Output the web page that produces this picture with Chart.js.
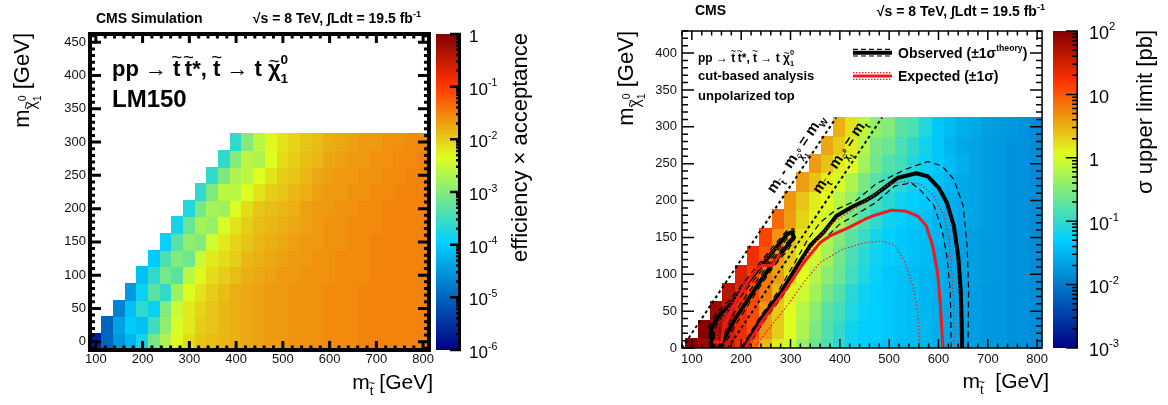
<!DOCTYPE html>
<html>
<head>
<meta charset="utf-8">
<script src="https://cdn.jsdelivr.net/npm/chart.js@4.4.1/dist/chart.umd.min.js"></script>
<style>
  body { margin: 0; background: #fff; width: 1168px; height: 405px; overflow: hidden; position: relative; }
  canvas { position: absolute; top: 0; }
</style>
</head>
<body>
<canvas id="effPlot" width="436" height="405" style="left:0px"></canvas>
<canvas id="effBar" width="124" height="405" style="left:436px"></canvas>
<canvas id="limPlot" width="492" height="405" style="left:560px"></canvas>
<canvas id="limBar" width="116" height="405" style="left:1052px"></canvas>
<script>
const FONT = '"Liberation Sans", Arial, Helvetica, sans-serif';
Chart.defaults.font.family = FONT;
Chart.defaults.color = '#111';

// bin centres (GeV)
const stopMass = [100,125,150,175,200,225,250,275,300,325,350,375,400,425,450,475,500,525,550,575,600,625,650,675,700,725,750,775,800];
const lspMass = [0,25,50,75,100,125,150,175,200,225,250,275,300];

// tick labels
const stopTicks = [100,200,300,400,500,600,700,800];
const effLspTicks = [0,50,100,150,200,250,300,350,400,450];
const limLspTicks = [0,50,100,150,200,250,300,350,400];
const effBarExps = [0,-1,-2,-3,-4,-5,-6];
const limBarExps = [2,1,0,-1,-2,-3];

// log10(efficiency x acceptance), one row per lsp mass, rows end at m_stop = 800
const effLog = [
  [-5.7,-5.0,-4.5,-4.2,-3.8,-3.1,-2.7,-2.3,-2.1,-1.95,-1.9,-1.85,-1.8,-1.75,-1.7,-1.65,-1.65,-1.6,-1.6,-1.6,-1.55,-1.55,-1.55,-1.5,-1.5,-1.5,-1.5,-1.5,-1.5],
  [-5.0,-4.4,-4.0,-4.1,-3.5,-2.9,-2.4,-2.2,-2.0,-1.95,-1.85,-1.8,-1.75,-1.7,-1.65,-1.65,-1.6,-1.6,-1.6,-1.55,-1.55,-1.55,-1.5,-1.5,-1.5,-1.5,-1.5,-1.5],
  [-4.7,-4.1,-3.6,-3.9,-3.0,-2.5,-2.2,-2.05,-1.95,-1.85,-1.8,-1.75,-1.7,-1.65,-1.65,-1.6,-1.6,-1.6,-1.55,-1.55,-1.55,-1.5,-1.5,-1.5,-1.5,-1.5,-1.5],
  [-4.5,-3.9,-3.3,-3.6,-2.8,-2.35,-2.15,-2.0,-1.9,-1.8,-1.75,-1.7,-1.65,-1.65,-1.6,-1.6,-1.6,-1.55,-1.55,-1.55,-1.5,-1.5,-1.5,-1.5,-1.5,-1.5],
  [-4.1,-3.6,-3.1,-3.3,-2.6,-2.3,-2.1,-2.0,-1.9,-1.8,-1.75,-1.7,-1.65,-1.65,-1.6,-1.6,-1.6,-1.55,-1.55,-1.55,-1.5,-1.5,-1.5,-1.5,-1.5],
  [-4.0,-3.4,-3.0,-3.15,-2.5,-2.2,-2.1,-2.0,-1.85,-1.8,-1.75,-1.7,-1.65,-1.65,-1.6,-1.6,-1.55,-1.55,-1.55,-1.5,-1.5,-1.5,-1.5,-1.5],
  [-3.9,-3.3,-2.9,-3.0,-2.45,-2.2,-2.05,-1.95,-1.85,-1.8,-1.75,-1.7,-1.65,-1.65,-1.6,-1.6,-1.55,-1.55,-1.5,-1.5,-1.5,-1.5,-1.5],
  [-3.8,-3.2,-2.75,-2.85,-2.4,-2.15,-2.0,-1.9,-1.85,-1.8,-1.75,-1.7,-1.65,-1.6,-1.6,-1.55,-1.55,-1.55,-1.5,-1.5,-1.5,-1.5],
  [-3.7,-3.1,-2.75,-2.8,-2.35,-2.1,-1.95,-1.9,-1.85,-1.8,-1.7,-1.65,-1.65,-1.6,-1.6,-1.55,-1.55,-1.5,-1.5,-1.5,-1.5],
  [-3.6,-3.05,-2.6,-2.6,-2.35,-2.15,-2.0,-1.95,-1.85,-1.8,-1.7,-1.65,-1.65,-1.6,-1.6,-1.55,-1.55,-1.5,-1.5,-1.5],
  [-3.6,-3.05,-2.7,-2.6,-2.35,-2.15,-2.0,-1.95,-1.85,-1.75,-1.7,-1.65,-1.65,-1.6,-1.6,-1.55,-1.55,-1.5,-1.5],
  [-3.6,-3.0,-2.6,-2.7,-2.35,-2.1,-2.0,-1.9,-1.85,-1.75,-1.7,-1.65,-1.65,-1.6,-1.6,-1.55,-1.55,-1.5],
  [-3.6,-3.0,-2.6,-2.3,-2.15,-2.05,-1.95,-1.9,-1.8,-1.75,-1.7,-1.65,-1.65,-1.6,-1.6,-1.55,-1.55]
];

// log10(sigma upper limit / pb), same layout
const limitLog = [
  [1.98,1.85,1.75,1.55,1.3,0.9,0.45,0.15,-0.05,-0.4,-0.65,-0.85,-1.05,-1.2,-1.3,-1.35,-1.4,-1.45,-1.45,-1.5,-1.55,-1.6,-1.65,-1.7,-1.75,-1.75,-1.8,-1.8,-1.85],
  [1.98,1.8,1.5,1.3,1.05,0.65,0.33,0.05,-0.25,-0.55,-0.8,-1.0,-1.2,-1.3,-1.3,-1.35,-1.4,-1.45,-1.5,-1.55,-1.6,-1.65,-1.7,-1.75,-1.75,-1.8,-1.8,-1.85],
  [1.85,1.6,1.3,1.05,0.6,0.35,0.05,-0.2,-0.45,-0.75,-0.9,-1.1,-1.25,-1.3,-1.35,-1.4,-1.45,-1.5,-1.55,-1.6,-1.65,-1.7,-1.75,-1.75,-1.8,-1.8,-1.85],
  [1.65,1.35,1.1,0.8,0.45,0.15,-0.05,-0.3,-0.6,-0.8,-1.05,-1.2,-1.3,-1.35,-1.4,-1.45,-1.5,-1.55,-1.6,-1.65,-1.7,-1.75,-1.75,-1.8,-1.8,-1.85],
  [1.45,1.15,0.8,0.6,0.3,0.05,-0.2,-0.45,-0.65,-0.9,-1.1,-1.25,-1.35,-1.4,-1.45,-1.5,-1.55,-1.6,-1.65,-1.7,-1.72,-1.75,-1.8,-1.8,-1.85],
  [1.3,1.0,0.6,0.35,0.1,-0.05,-0.3,-0.6,-0.85,-1.05,-1.2,-1.3,-1.35,-1.4,-1.45,-1.55,-1.6,-1.65,-1.7,-1.72,-1.75,-1.8,-1.8,-1.85],
  [1.1,0.65,0.45,0.2,0.05,-0.25,-0.5,-0.75,-0.95,-1.15,-1.3,-1.35,-1.4,-1.45,-1.5,-1.6,-1.65,-1.7,-1.72,-1.75,-1.8,-1.8,-1.85],
  [0.9,0.6,0.3,0.1,-0.05,-0.25,-0.55,-0.8,-1.0,-1.2,-1.3,-1.35,-1.4,-1.5,-1.55,-1.6,-1.65,-1.7,-1.75,-1.8,-1.8,-1.85],
  [0.65,0.38,0.15,0.05,-0.2,-0.4,-0.7,-0.9,-1.05,-1.2,-1.3,-1.35,-1.45,-1.55,-1.6,-1.65,-1.7,-1.75,-1.8,-1.8,-1.85],
  [0.6,0.4,0.15,0.0,-0.25,-0.55,-0.75,-0.9,-1.05,-1.2,-1.3,-1.4,-1.5,-1.6,-1.65,-1.7,-1.75,-1.8,-1.8,-1.85],
  [0.6,0.4,0.15,0.05,-0.3,-0.6,-0.8,-0.9,-1.1,-1.25,-1.35,-1.45,-1.55,-1.65,-1.7,-1.75,-1.8,-1.8,-1.85],
  [0.55,0.35,0.15,-0.2,-0.55,-0.65,-0.85,-1.0,-1.2,-1.35,-1.5,-1.6,-1.65,-1.7,-1.75,-1.8,-1.8,-1.85],
  [0.5,0.2,-0.15,-0.4,-0.5,-0.75,-0.85,-1.1,-1.35,-1.45,-1.55,-1.6,-1.7,-1.72,-1.75,-1.8,-1.85]
];

// exclusion contours [m_stop, m_lsp]
const obsMain = [[205,0],[241,40],[281,76],[314,112],[340,139],[367,157],[393,179],[426,192],[452,200],[472,208],[518,231],[555,237],[578,233],[601,217],[617,197],[631,166],[640,125],[645,80],[647,35],[648,0]];
const obsIsland = [[142,0],[139,26],[155,44],[182,62],[208,85],[235,107],[268,134],[294,155],[304,157],[306,150],[294,139],[261,112],[228,80],[188,40],[155,0]];
const obsUp = [[200,0],[236,40],[276,78],[308,115],[333,145],[360,170],[393,188],[433,200],[472,222],[532,242],[578,253],[607,247],[631,229],[650,193],[658,139],[661,80],[660,0]];
const obsDown = [[212,0],[248,38],[287,73],[320,108],[346,133],[372,150],[400,168],[433,181],[472,197],[512,220],[545,224],[565,213],[591,193],[607,161],[617,125],[624,76],[626,0]];
const obsUpIsland = [[136,0],[134,28],[150,48],[178,66],[205,89],[232,111],[265,138],[292,159],[306,162],[310,150],[297,135],[263,108],[231,76],[193,36],[162,0]];
const obsDownIsland = [[147,0],[145,24],[160,41],[186,58],[212,81],[239,103],[271,130],[294,149],[300,149],[290,141],[258,116],[225,85],[184,46],[151,0]];
const expMain = [[208,0],[241,35],[287,76],[327,116],[360,143],[380,152],[420,164],[452,175],[466,179],[505,187],[532,186],[558,179],[575,166],[588,139],[598,103],[604,58],[609,0]];
const expIsland = [[143,8],[160,8],[165,28],[182,55],[208,85],[228,104],[242,112],[262,112],[280,128]];
const expUp = [[215,0],[250,40],[290,80],[325,118],[355,148],[385,170],[433,190],[499,222],[532,226],[565,222],[591,206],[611,179],[621,148],[627,103],[631,58],[632,0]];
const expDown = [[225,0],[255,25],[294,58],[327,89],[360,116],[406,134],[452,143],[485,145],[512,139],[532,116],[548,85],[558,49],[561,0]];
const expUpIsland = [[150,0],[152,30],[175,55],[205,85],[240,115],[270,135],[288,140]];
// kinematic boundaries
const wLine = [[80,0],[392.5,312.5]];
const tLine = [[173,0],[485.5,312.5]];

// ROOT style rainbow palette
const palStops = [0, 0.34, 0.61, 0.84, 1];
const palR = [0, 0, 0.87, 1, 0.51];
const palG = [0, 0.81, 1, 0.2, 0];
const palB = [0.51, 1, 0.12, 0, 0];
function palColor(i) {
  return `rgb(${Math.round(palR[i]*255)},${Math.round(palG[i]*255)},${Math.round(palB[i]*255)})`;
}
function palette(f) {
  f = Math.max(0, Math.min(1, f));
  let i = 0;
  while (i < palStops.length - 2 && f > palStops[i + 1]) i++;
  const t = (f - palStops[i]) / (palStops[i + 1] - palStops[i]);
  const c = arr => Math.round((arr[i] + (arr[i + 1] - arr[i]) * t) * 255);
  return `rgb(${c(palR)},${c(palG)},${c(palB)})`;
}

// text with sub/superscripts and tildes
function partsWidth(ctx, parts, size, weight) {
  let w = 0;
  for (const p of parts) {
    const it = typeof p === 'string' ? { t: p } : p;
    ctx.font = `${weight} ${size * (it.s || 1)}px ${FONT}`;
    if (it.adv !== false) w += ctx.measureText(it.t).width;
  }
  return w;
}
function drawRich(ctx, parts, x, y, size, weight, align) {
  const w = partsWidth(ctx, parts, size, weight);
  let cx = align === 'right' ? x - w : align === 'center' ? x - w / 2 : x;
  ctx.textAlign = 'left';
  ctx.textBaseline = 'alphabetic';
  ctx.fillStyle = '#000';
  for (const p of parts) {
    const it = typeof p === 'string' ? { t: p } : p;
    const fs = size * (it.s || 1);
    const by = y - (it.dy || 0) * size;
    ctx.font = `${weight} ${fs}px ${FONT}`;
    const tw = ctx.measureText(it.t).width;
    ctx.fillText(it.t, cx, by);
    if (it.tilde) {
      const ts = fs * 0.85;
      ctx.font = `normal ${ts}px ${FONT}`;
      const lw = ctx.measureText('~').width;
      const lift = it.tilde === 'hi' ? 0.6 : 0.4;
      ctx.fillText('~', cx + tw / 2 - lw / 2, by - fs * lift);
    }
    if (it.adv !== false) cx += tw;
  }
}
function drawRotated(ctx, parts, x, top, size, weight) {
  ctx.save();
  ctx.translate(x, top);
  ctx.rotate(-Math.PI / 2);
  drawRich(ctx, parts, 0, 0, size, weight, 'right');
  ctx.restore();
}

const procParts = ['pp → ', { t: 't', tilde: 'hi' }, '\u2009', { t: 't', tilde: 'hi' }, '*, ', { t: 't', tilde: 'hi' }, ' → t ',
  { t: 'χ', tilde: 'lo' }, { t: '0', s: 0.62, dy: 0.55, adv: false }, { t: '1', s: 0.62, dy: -0.3 }];
const energyParts = ['√s = 8 TeV, ∫Ldt = 19.5 fb', { t: '-1', s: 0.65, dy: 0.45 }];
const lspTitle = ['m', { t: 'χ', s: 0.72, dy: -0.32, tilde: 'lo' }, { t: '0', s: 0.48, dy: 0.12, adv: false }, { t: '1', s: 0.48, dy: -0.55 }, ' [GeV]'];
const stopTitle = sp => ['m', { t: 't', s: 0.62, dy: -0.3, tilde: 'hi' }, sp + '[GeV]'];
const diagLabel = sub => ['m', { t: 't', s: 0.62, dy: -0.3, tilde: 'hi' }, ' - m', { t: 'χ', s: 0.62, dy: -0.3, tilde: 'lo' },
  { t: '0', s: 0.4, dy: 0.12, adv: false }, { t: '1', s: 0.4, dy: -0.5 }, ' = m', { t: sub, s: 0.62, dy: -0.3 }];

function drawHeat(chart, rows, logMin, logMax) {
  const { ctx, chartArea: a, scales: { x, y } } = chart;
  const half = (stopMass[1] - stopMass[0]) / 2;
  ctx.save();
  ctx.beginPath();
  ctx.rect(a.left, a.top, a.right - a.left, a.bottom - a.top);
  ctx.clip();
  rows.forEach((row, r) => {
    const m = lspMass[r];
    const start = stopMass.length - row.length;
    row.forEach((v, i) => {
      const s = stopMass[start + i];
      const x0 = Math.floor(x.getPixelForValue(s - half)), x1 = Math.ceil(x.getPixelForValue(s + half));
      const y0 = Math.floor(y.getPixelForValue(m + half)), y1 = Math.ceil(y.getPixelForValue(m - half));
      ctx.fillStyle = palette((v - logMin) / (logMax - logMin));
      ctx.fillRect(x0, y0, x1 - x0, y1 - y0);
    });
  });
  ctx.restore();
}

function drawFrame(chart, f) {
  const { ctx, chartArea: a, scales: { x, y } } = chart;
  ctx.save();
  ctx.strokeStyle = '#000';
  ctx.lineWidth = f.tw;
  ctx.beginPath();
  for (let k = Math.ceil(x.min / f.xMin); k * f.xMin <= x.max; k++) {
    const v = k * f.xMin, p = x.getPixelForValue(v);
    const L = v % f.xMaj === 0 ? f.xLen[0] : f.xLen[1];
    ctx.moveTo(p, a.bottom); ctx.lineTo(p, a.bottom - L);
    ctx.moveTo(p, a.top); ctx.lineTo(p, a.top + L);
  }
  for (let k = Math.ceil(y.min / f.yMin); k * f.yMin <= y.max; k++) {
    const v = k * f.yMin, p = y.getPixelForValue(v);
    const L = v % f.yMaj === 0 ? f.yLen[0] : f.yLen[1];
    ctx.moveTo(a.left, p); ctx.lineTo(a.left + L, p);
    ctx.moveTo(a.right, p); ctx.lineTo(a.right - L, p);
  }
  ctx.stroke();
  ctx.lineWidth = f.lw;
  ctx.strokeRect(a.left, a.top, a.right - a.left, a.bottom - a.top);
  ctx.restore();
}

function line(pts, color, width, dash) {
  return {
    data: pts.map(([x, y]) => ({ x, y })), showLine: true, borderColor: color, borderWidth: width,
    borderDash: dash || [], pointRadius: 0, fill: false, tension: 0, borderJoinStyle: 'round'
  };
}

function makePlot(id, o) {
  const cv = document.getElementById(id);
  const W = cv.width, H = cv.height;
  return new Chart(cv, {
    type: 'scatter',
    data: { datasets: o.datasets },
    options: {
      responsive: false, animation: false, events: [],
      layout: { padding: { left: 0, right: W - o.area.right, top: o.area.top, bottom: 0 } },
      plugins: { legend: { display: false }, tooltip: { enabled: false } },
      scales: {
        x: {
          type: 'linear', min: o.x[0], max: o.x[1],
          grid: { display: false, drawTicks: false }, border: { display: false },
          ticks: { font: { size: 13 }, color: '#111', padding: o.pad[0], maxRotation: 0, autoSkip: false },
          afterBuildTicks: s => { s.ticks = stopTicks.map(v => ({ value: v })); },
          afterFit: s => { s.height = H - o.area.bottom; }
        },
        y: {
          type: 'linear', min: o.y[0], max: o.y[1],
          grid: { display: false, drawTicks: false }, border: { display: false },
          ticks: { font: { size: 13 }, color: '#111', padding: o.pad[1], autoSkip: false },
          afterBuildTicks: s => { s.ticks = o.yTicks.map(v => ({ value: v })); },
          afterFit: s => { s.width = o.area.left; }
        }
      }
    },
    plugins: [{
      id: id + 'Deco',
      beforeDatasetsDraw: c => drawHeat(c, o.rows, o.logRange[0], o.logRange[1]),
      afterDatasetsDraw: c => { drawFrame(c, o.frame); o.decor(c); }
    }]
  });
}

function drawBar(c, o) {
  const { ctx, chartArea: a, scales: { y } } = c;
  ctx.save();
  const g = ctx.createLinearGradient(0, a.bottom, 0, a.top);
  palStops.forEach((s, i) => g.addColorStop(s, palColor(i)));
  ctx.fillStyle = g;
  ctx.fillRect(a.left, a.top, a.right - a.left, a.bottom - a.top);
  ctx.strokeStyle = '#000';
  ctx.lineWidth = o.tw;
  ctx.beginPath();
  for (let e = o.exp[0]; e < o.exp[1]; e++) {
    for (let k = 1; k <= 9; k++) {
      const p = y.getPixelForValue(k * Math.pow(10, e));
      const L = k === 1 ? o.len[0] : o.len[1];
      ctx.moveTo(a.right, p); ctx.lineTo(a.right - L, p);
    }
  }
  const pt = y.getPixelForValue(Math.pow(10, o.exp[1]));
  ctx.moveTo(a.right, pt); ctx.lineTo(a.right - o.len[0], pt);
  ctx.stroke();
  ctx.lineWidth = o.lw;
  ctx.beginPath();
  ctx.moveTo(a.right - o.lw / 2, a.top); ctx.lineTo(a.right - o.lw / 2, a.bottom);
  ctx.stroke();
  o.labels.forEach(e => {
    const p = y.getPixelForValue(Math.pow(10, e));
    const parts = e === 0 ? ['1'] : e === 1 ? ['10'] : ['10', { t: String(e), s: 0.62, dy: 0.5 }];
    drawRich(ctx, parts, o.labelX, p + o.labelSize * 0.36 + 2, o.labelSize, 'normal', 'left');
  });
  drawRotated(ctx, [o.title], o.titleX, o.titleTop, o.titleSize, 'normal');
  ctx.restore();
}

function makeBar(id, o) {
  const cv = document.getElementById(id);
  const W = cv.width, H = cv.height;
  return new Chart(cv, {
    type: 'scatter',
    data: { datasets: [] },
    options: {
      responsive: false, animation: false, events: [],
      layout: { padding: { left: o.area.left, right: 0, top: o.area.top, bottom: H - o.area.bottom } },
      plugins: { legend: { display: false }, tooltip: { enabled: false } },
      scales: {
        x: { display: false, min: 0, max: 1 },
        y: {
          type: 'logarithmic', position: 'right', min: Math.pow(10, o.exp[0]), max: Math.pow(10, o.exp[1]),
          grid: { display: false }, border: { display: false }, ticks: { display: false },
          afterFit: s => { s.width = W - o.area.right; }
        }
      }
    },
    plugins: [{ id: id + 'Deco', afterDraw: c => drawBar(c, o) }]
  });
}

// left: efficiency x acceptance
makePlot('effPlot', {
  x: [87.5, 812.5], y: [-12.5, 462.5], yTicks: effLspTicks,
  area: { left: 90, right: 434, top: 34, bottom: 350 }, pad: [2, 4],
  rows: effLog, logRange: [-6, 0], datasets: [],
  frame: { lw: 4, tw: 3, xMaj: 100, xMin: 20, yMaj: 50, yMin: 10, xLen: [9, 4.5], yLen: [11, 5] },
  decor: c => {
    const ctx = c.ctx;
    ctx.save();
    drawRich(ctx, ['CMS Simulation'], 96, 23, 14, 'bold', 'left');
    drawRich(ctx, energyParts, 421, 23, 14, 'bold', 'right');
    drawRich(ctx, procParts, 112, 76, 22, 'bold', 'left');
    drawRich(ctx, ['LM150'], 112, 107, 24, 'bold', 'left');
    drawRotated(ctx, lspTitle, 29, 33, 22, 'normal');
    drawRich(ctx, stopTitle(' '), 433, 389, 21, 'normal', 'right');
    ctx.restore();
  }
});

makeBar('effBar', {
  exp: [-6, 0], area: { left: 0, right: 25, top: 34, bottom: 350 },
  lw: 3, tw: 2.5, len: [11, 5], labels: effBarExps, labelX: 33, labelSize: 17,
  title: 'efficiency × acceptance', titleX: 91, titleTop: 33, titleSize: 22
});

// right: cross section upper limit
makePlot('limPlot', {
  x: [80, 810], y: [0, 430], yTicks: limLspTicks,
  area: { left: 122, right: 490, top: 31, bottom: 348 }, pad: [4, 5],
  rows: limitLog, logRange: [-3, 2],
  datasets: [
    line(wLine, '#000', 2, [3, 3]),
    line(tLine, '#000', 2, [3, 3]),
    line(expUp, '#e8262a', 1.2, [1.5, 2]),
    line(expDown, '#e8262a', 1.2, [1.5, 2]),
    line(expUpIsland, '#e8262a', 1.2, [1.5, 2]),
    line(expMain, '#f0191e', 3),
    line(expIsland, '#f0191e', 3),
    line(obsUp, '#000', 1.2, [6, 4]),
    line(obsDown, '#000', 1.2, [6, 4]),
    line(obsUpIsland, '#000', 1.2, [6, 4]),
    line(obsDownIsland, '#000', 1.2, [6, 4]),
    line(obsMain, '#000', 4),
    line(obsIsland, '#000', 4)
  ],
  frame: { lw: 1.5, tw: 1.5, xMaj: 100, xMin: 20, yMaj: 50, yMin: 10, xLen: [9, 4.5], yLen: [12, 6] },
  decor: c => {
    const { ctx, scales: { x, y } } = c;
    ctx.save();
    ctx.translate(-560, 0);
    drawRich(ctx, ['CMS'], 695, 15, 14, 'bold', 'left');
    drawRich(ctx, energyParts, 1045, 16, 14, 'bold', 'right');
    drawRich(ctx, procParts, 698, 62, 12, 'bold', 'left');
    drawRich(ctx, ['cut-based analysis'], 698, 79.5, 13, 'bold', 'left');
    drawRich(ctx, ['unpolarized top'], 698, 100, 13, 'bold', 'left');
    // legend
    ctx.strokeStyle = '#000';
    ctx.lineWidth = 1.2; ctx.setLineDash([5, 3]);
    ctx.beginPath();
    ctx.moveTo(853, 49.3); ctx.lineTo(892, 49.3);
    ctx.moveTo(853, 56); ctx.lineTo(892, 56);
    ctx.stroke();
    ctx.setLineDash([]); ctx.lineWidth = 4;
    ctx.beginPath(); ctx.moveTo(853, 52.7); ctx.lineTo(892, 52.7); ctx.stroke();
    ctx.strokeStyle = '#e8262a'; ctx.lineWidth = 1.2; ctx.setLineDash([1.5, 1.5]);
    ctx.beginPath();
    ctx.moveTo(853, 72.7); ctx.lineTo(892, 72.7);
    ctx.moveTo(853, 79.3); ctx.lineTo(892, 79.3);
    ctx.stroke();
    ctx.setLineDash([]); ctx.strokeStyle = '#f0191e'; ctx.lineWidth = 3;
    ctx.beginPath(); ctx.moveTo(853, 76); ctx.lineTo(892, 76); ctx.stroke();
    drawRich(ctx, ['Observed (±1σ', { t: 'theory', s: 0.62, dy: 0.5 }, ')'], 898, 57.5, 14, 'bold', 'left');
    drawRich(ctx, ['Expected (±1σ)'], 898, 80.5, 14, 'bold', 'left');
    // labels along the kinematic lines
    const ang = Math.atan2(y.getPixelForValue(wLine[1][1]) - y.getPixelForValue(wLine[0][1]),
                           x.getPixelForValue(wLine[1][0]) - x.getPixelForValue(wLine[0][0]));
    [[310, 264, 'W'], [399, 260, 't']].forEach(([mx, my, sub]) => {
      ctx.save();
      ctx.translate(x.getPixelForValue(mx) + 560, y.getPixelForValue(my));
      ctx.rotate(ang);
      drawRich(ctx, diagLabel(sub), 0, 5, 15, 'bold', 'center');
      ctx.restore();
    });
    drawRotated(ctx, lspTitle, 633, 31, 22, 'normal');
    drawRich(ctx, stopTitle('  '), 1049, 388, 21, 'normal', 'right');
    ctx.restore();
  }
});

makeBar('limBar', {
  exp: [-3, 2], area: { left: 1, right: 26, top: 31, bottom: 348 },
  lw: 1.5, tw: 1.5, len: [12, 6], labels: limBarExps, labelX: 37, labelSize: 18,
  title: 'σ upper limit [pb]', titleX: 100, titleTop: 30, titleSize: 22
});
</script>
</body>
</html>
